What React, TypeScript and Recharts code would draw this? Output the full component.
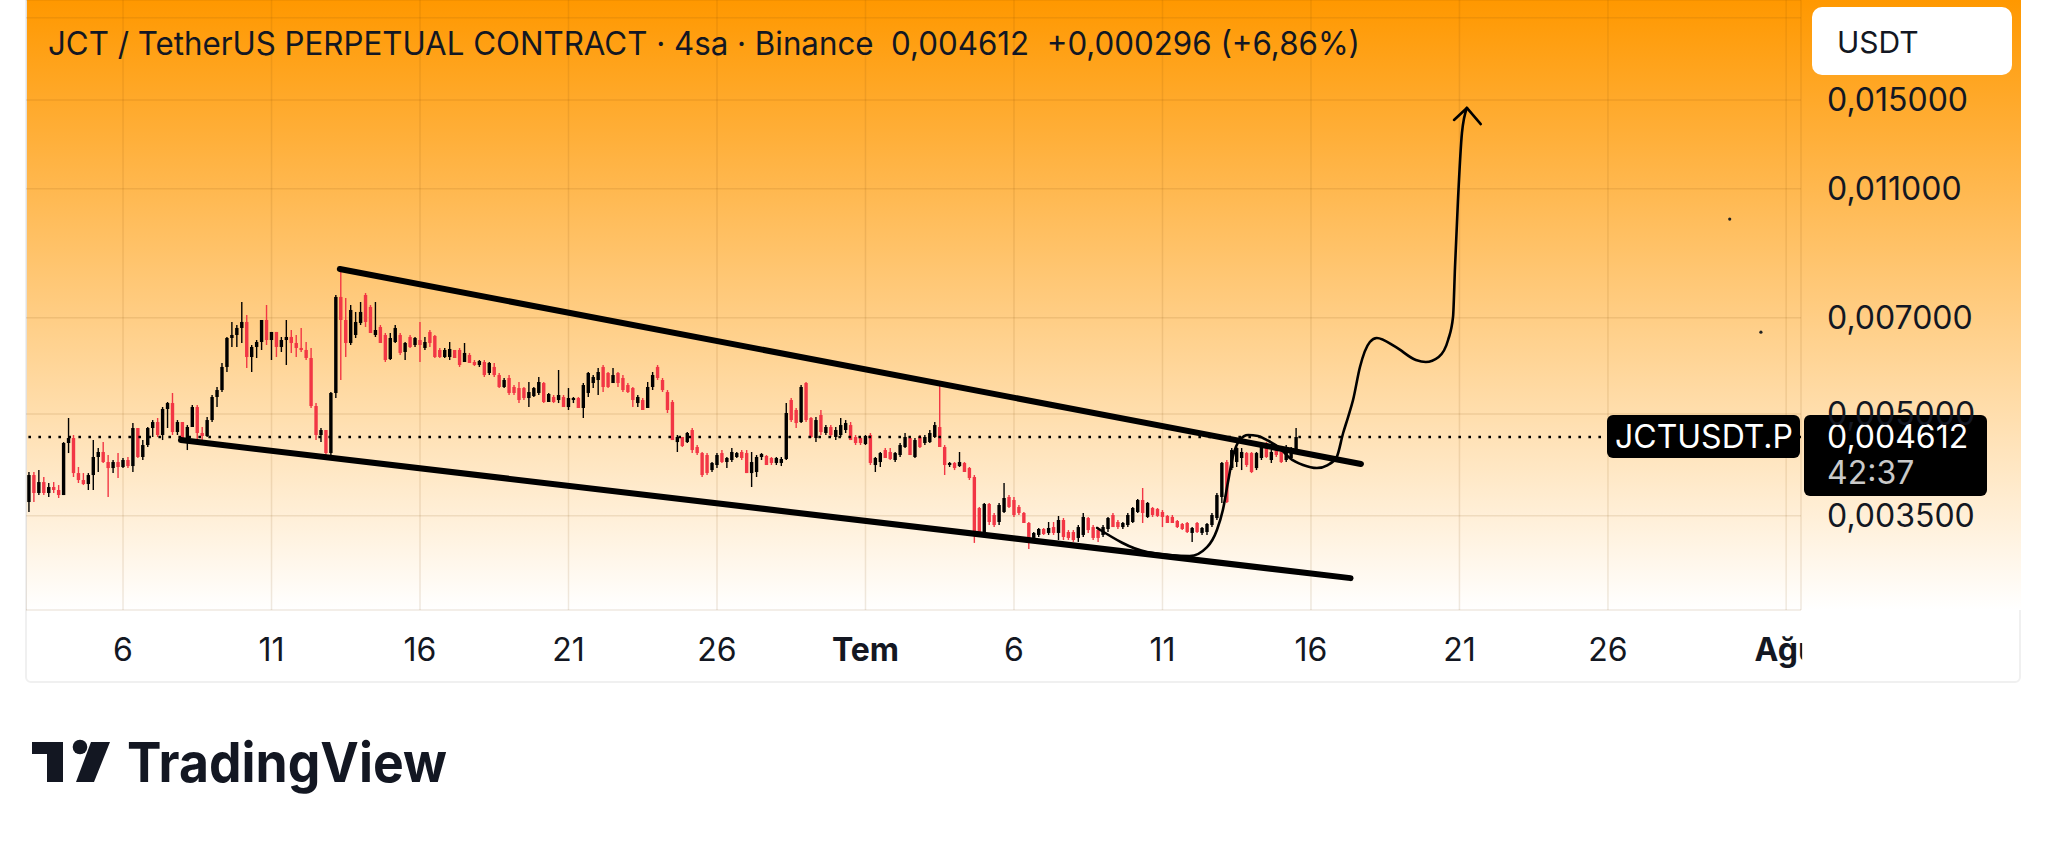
import React from 'react';
import {
  ComposedChart,
  Bar,
  Line,
  Scatter,
  XAxis,
  YAxis,
  CartesianGrid,
  ReferenceLine,
} from 'recharts';

// JCTUSDT.P 4h candles, bar 0 = 2 Haz 20:00 -> [open, high, low, close]
const ohlc: number[][] = [
  [0.003673, 0.00408, 0.003547, 0.004037], [0.004037, 0.00408, 0.003673, 0.003791], [0.003791, 0.004108, 0.003764, 0.003939],
  [0.003939, 0.004009, 0.003764, 0.003791], [0.003791, 0.003926, 0.003738, 0.003871], [0.003871, 0.003939, 0.003791, 0.003831],
  [0.003831, 0.003898, 0.003725, 0.003764], [0.003764, 0.004531, 0.003764, 0.004516], [0.004516, 0.004929, 0.00436, 0.004595],
  [0.004595, 0.004644, 0.004009, 0.004065], [0.004065, 0.004152, 0.003926, 0.003967], [0.003967, 0.004065, 0.003898, 0.003912],
  [0.003912, 0.004065, 0.003831, 0.004037], [0.004037, 0.004563, 0.003831, 0.0043], [0.0043, 0.004437, 0.00408, 0.004376],
  [0.004376, 0.004531, 0.004211, 0.004225], [0.004225, 0.00433, 0.003738, 0.004137], [0.004137, 0.004255, 0.004065, 0.004225],
  [0.004225, 0.00436, 0.003995, 0.004152], [0.004152, 0.004285, 0.004137, 0.004255], [0.004255, 0.0043, 0.004137, 0.004166],
  [0.004166, 0.004843, 0.00408, 0.004759], [0.004759, 0.004759, 0.004285, 0.0043], [0.0043, 0.004563, 0.004255, 0.004484],
  [0.004484, 0.004776, 0.004453, 0.004759], [0.004759, 0.004894, 0.004612, 0.00486], [0.00486, 0.004929, 0.004612, 0.004644],
  [0.004644, 0.005122, 0.004563, 0.005087], [0.005087, 0.005213, 0.004759, 0.005194], [0.005194, 0.00538, 0.004644, 0.004693],
  [0.004693, 0.004894, 0.004644, 0.00486], [0.00486, 0.00486, 0.004563, 0.004595], [0.004595, 0.004809, 0.004406, 0.004776],
  [0.004776, 0.005158, 0.004776, 0.005122], [0.005122, 0.005158, 0.004563, 0.004677], [0.004677, 0.004776, 0.004516, 0.004628],
  [0.004628, 0.004946, 0.004612, 0.004894], [0.004894, 0.005342, 0.00486, 0.005305], [0.005305, 0.005494, 0.005122, 0.005436],
  [0.005436, 0.005976, 0.005398, 0.005893], [0.005893, 0.006545, 0.00579, 0.006522], [0.006522, 0.006898, 0.00632, 0.006591],
  [0.006591, 0.006826, 0.00632, 0.006755], [0.006755, 0.007398, 0.006409, 0.006898], [0.006898, 0.007069, 0.005872, 0.006102],
  [0.006102, 0.006364, 0.00579, 0.00632], [0.00632, 0.006476, 0.006081, 0.006431], [0.006431, 0.006946, 0.006254, 0.006946],
  [0.006946, 0.007321, 0.006364, 0.006476], [0.006476, 0.006661, 0.006038, 0.006661], [0.006661, 0.006661, 0.006102, 0.00632],
  [0.00632, 0.006545, 0.00621, 0.006476], [0.006476, 0.006946, 0.005934, 0.006545], [0.006545, 0.006707, 0.006189, 0.006409],
  [0.006409, 0.006591, 0.006102, 0.006298], [0.006298, 0.006755, 0.00621, 0.006254], [0.006254, 0.006431, 0.006038, 0.006081],
  [0.006081, 0.006298, 0.005105, 0.00514], [0.00514, 0.005194, 0.004563, 0.004644], [0.004644, 0.004759, 0.004531, 0.004726],
  [0.004726, 0.004726, 0.0043, 0.00436], [0.00436, 0.005398, 0.004255, 0.00538], [0.00538, 0.007581, 0.005286, 0.007529],
  [0.007529, 0.008304, 0.00563, 0.006946], [0.006946, 0.007502, 0.006102, 0.006409], [0.006409, 0.007321, 0.006364, 0.007194],
  [0.006591, 0.007144, 0.006522, 0.006898], [0.006874, 0.007398, 0.006826, 0.007144], [0.007581, 0.007635, 0.006778, 0.006898],
  [0.00727, 0.007321, 0.006637, 0.006637], [0.006591, 0.007398, 0.006545, 0.006707], [0.006778, 0.006826, 0.006409, 0.006409],
  [0.006591, 0.006637, 0.005996, 0.006038], [0.006059, 0.006637, 0.006038, 0.006522], [0.006431, 0.006826, 0.006409, 0.006755],
  [0.006591, 0.006637, 0.006145, 0.006189], [0.00621, 0.006431, 0.006038, 0.006409], [0.006545, 0.006591, 0.006298, 0.00632],
  [0.006364, 0.006545, 0.00632, 0.006522], [0.006476, 0.006898, 0.005996, 0.006364], [0.006298, 0.006545, 0.006254, 0.006431],
  [0.006661, 0.006707, 0.00632, 0.006409], [0.006568, 0.006591, 0.006081, 0.006102], [0.006254, 0.006298, 0.006081, 0.006102],
  [0.006102, 0.006298, 0.006081, 0.006254], [0.006102, 0.006431, 0.006038, 0.006276], [0.006254, 0.006254, 0.006081, 0.006081],
  [0.006254, 0.006298, 0.005893, 0.005934], [0.005996, 0.006409, 0.005996, 0.006189], [0.006145, 0.006189, 0.005976, 0.005976],
  [0.005996, 0.006038, 0.005913, 0.005934], [0.005934, 0.006038, 0.005893, 0.006017], [0.005996, 0.006038, 0.005689, 0.005729],
  [0.00577, 0.005996, 0.005729, 0.005976], [0.005893, 0.005976, 0.005689, 0.005729], [0.005729, 0.00577, 0.005474, 0.005494],
  [0.005494, 0.00567, 0.005474, 0.00563], [0.00567, 0.005729, 0.005342, 0.00538], [0.005494, 0.005532, 0.005342, 0.00538],
  [0.005474, 0.005591, 0.005194, 0.005249], [0.005474, 0.005494, 0.005249, 0.005286], [0.005286, 0.005591, 0.005122, 0.005398],
  [0.005323, 0.005494, 0.005305, 0.005474], [0.00538, 0.005689, 0.005342, 0.005591], [0.005571, 0.005591, 0.005194, 0.005213],
  [0.005213, 0.00538, 0.005213, 0.005361], [0.005305, 0.005342, 0.005194, 0.005213], [0.005249, 0.005831, 0.005194, 0.005342],
  [0.005305, 0.005342, 0.005122, 0.005122], [0.005122, 0.005474, 0.005069, 0.005286], [0.005249, 0.005305, 0.005194, 0.005286],
  [0.005286, 0.005305, 0.005105, 0.005105], [0.005105, 0.005571, 0.004929, 0.005532], [0.00538, 0.00579, 0.005305, 0.00577],
  [0.005571, 0.005729, 0.005474, 0.005689], [0.00563, 0.005872, 0.005342, 0.00579], [0.005893, 0.005934, 0.005398, 0.005494],
  [0.00577, 0.00579, 0.005474, 0.005494], [0.005571, 0.005872, 0.005571, 0.005729], [0.00577, 0.00579, 0.005494, 0.005571],
  [0.00567, 0.005729, 0.005398, 0.005436], [0.005532, 0.005571, 0.00538, 0.005398], [0.005474, 0.005494, 0.005122, 0.005249],
  [0.005194, 0.005342, 0.005122, 0.005305], [0.005249, 0.005286, 0.005069, 0.005069], [0.005105, 0.005591, 0.005105, 0.005494],
  [0.005494, 0.00579, 0.005436, 0.005729], [0.005893, 0.005934, 0.00563, 0.00567], [0.00563, 0.00567, 0.005398, 0.005436],
  [0.005398, 0.005436, 0.005016, 0.005069], [0.005213, 0.005249, 0.004563, 0.004563], [0.004531, 0.004644, 0.004376, 0.004612],
  [0.004612, 0.004612, 0.004453, 0.004468], [0.004531, 0.004693, 0.004516, 0.004677], [0.004726, 0.004759, 0.00436, 0.004406],
  [0.004453, 0.004484, 0.00433, 0.00436], [0.00436, 0.004376, 0.004009, 0.004037], [0.00433, 0.00436, 0.004037, 0.004065],
  [0.004108, 0.004225, 0.00408, 0.004211], [0.004181, 0.00436, 0.004137, 0.00433], [0.00436, 0.004406, 0.004211, 0.004225],
  [0.004225, 0.0043, 0.004137, 0.004285], [0.004255, 0.004437, 0.004225, 0.004376], [0.0043, 0.004376, 0.004285, 0.00436],
  [0.004376, 0.004406, 0.004255, 0.004285], [0.00436, 0.004406, 0.004065, 0.004065], [0.004065, 0.004376, 0.003871, 0.004225],
  [0.00408, 0.00433, 0.004009, 0.0043], [0.0043, 0.00436, 0.004255, 0.004345], [0.004315, 0.00433, 0.004181, 0.004181],
  [0.004285, 0.0043, 0.004181, 0.004211], [0.004211, 0.0043, 0.004181, 0.004285], [0.004211, 0.0043, 0.004166, 0.00427],
  [0.00427, 0.005194, 0.004255, 0.005016], [0.005249, 0.005286, 0.00486, 0.004894], [0.005069, 0.005105, 0.004759, 0.004843],
  [0.00486, 0.005532, 0.004843, 0.005494], [0.005571, 0.005591, 0.00486, 0.004894], [0.004929, 0.004946, 0.004595, 0.004612],
  [0.004595, 0.004946, 0.004531, 0.004894], [0.004981, 0.005069, 0.004644, 0.004693], [0.004677, 0.004809, 0.004644, 0.004776],
  [0.004776, 0.004809, 0.004612, 0.004644], [0.004612, 0.004776, 0.004563, 0.004726], [0.004644, 0.004929, 0.004612, 0.004809],
  [0.004726, 0.004894, 0.004677, 0.004843], [0.004809, 0.00486, 0.004563, 0.004563], [0.004612, 0.004644, 0.004484, 0.004516],
  [0.004595, 0.004612, 0.004484, 0.004516], [0.0045, 0.004644, 0.004484, 0.004628], [0.004644, 0.004677, 0.004181, 0.004211],
  [0.004181, 0.0043, 0.00408, 0.004285], [0.004225, 0.004376, 0.004152, 0.00436], [0.004406, 0.004437, 0.004285, 0.004285],
  [0.004376, 0.004437, 0.004255, 0.00427], [0.004255, 0.004376, 0.004225, 0.00436], [0.00433, 0.004516, 0.0043, 0.004484],
  [0.004453, 0.004677, 0.004437, 0.004612], [0.004595, 0.004612, 0.00433, 0.00433], [0.0043, 0.004595, 0.004285, 0.004563],
  [0.004612, 0.004644, 0.004437, 0.004453], [0.004516, 0.004644, 0.004484, 0.004612], [0.004531, 0.004726, 0.004516, 0.004677],
  [0.004612, 0.00486, 0.004595, 0.004809], [0.004776, 0.005532, 0.004453, 0.004453], [0.004453, 0.004484, 0.004037, 0.004181],
  [0.004181, 0.004225, 0.004152, 0.004211], [0.004211, 0.004225, 0.004108, 0.004137], [0.004166, 0.004376, 0.004152, 0.004225],
  [0.004211, 0.004225, 0.00408, 0.00408], [0.004137, 0.004152, 0.003967, 0.003995], [0.004009, 0.004037, 0.003183, 0.003307],
  [0.003597, 0.00361, 0.003296, 0.003307], [0.003307, 0.003661, 0.003296, 0.003648], [0.003648, 0.003661, 0.003389, 0.003425],
  [0.00351, 0.003535, 0.003365, 0.003389], [0.003425, 0.003661, 0.003389, 0.003635], [0.003547, 0.003926, 0.003535, 0.003725],
  [0.003738, 0.003764, 0.003597, 0.00361], [0.003699, 0.003738, 0.003486, 0.00351], [0.00361, 0.003635, 0.00351, 0.003535],
  [0.003535, 0.003547, 0.003413, 0.003413], [0.003413, 0.003425, 0.003116, 0.003216], [0.003239, 0.003307, 0.003216, 0.003296],
  [0.003273, 0.003354, 0.00325, 0.003342], [0.003342, 0.003354, 0.003273, 0.003284], [0.003296, 0.003425, 0.003273, 0.003354],
  [0.003365, 0.003425, 0.003273, 0.003296], [0.003296, 0.003498, 0.003216, 0.003449], [0.003449, 0.003473, 0.003216, 0.00325],
  [0.003307, 0.00333, 0.003216, 0.003239], [0.003307, 0.00333, 0.003194, 0.003216], [0.003239, 0.003389, 0.003194, 0.003365],
  [0.003273, 0.003535, 0.00325, 0.003486], [0.003473, 0.003486, 0.003296, 0.00333], [0.003365, 0.003389, 0.003216, 0.003239],
  [0.00333, 0.003365, 0.003194, 0.003239], [0.003273, 0.003389, 0.00325, 0.003365], [0.003342, 0.003486, 0.003307, 0.003473],
  [0.00351, 0.003535, 0.003365, 0.003365], [0.003425, 0.003449, 0.003342, 0.003365], [0.003365, 0.003425, 0.003342, 0.003413],
  [0.003389, 0.003535, 0.003365, 0.00351], [0.003425, 0.00361, 0.003413, 0.003597], [0.003547, 0.003712, 0.003535, 0.003699],
  [0.003699, 0.003858, 0.003413, 0.003535], [0.003486, 0.003673, 0.003473, 0.003661], [0.003597, 0.00361, 0.003486, 0.00351],
  [0.003585, 0.003597, 0.003486, 0.003498], [0.003547, 0.003572, 0.003365, 0.003486], [0.003498, 0.00351, 0.003413, 0.003413],
  [0.003486, 0.00351, 0.003413, 0.003413], [0.003437, 0.003449, 0.003354, 0.003365], [0.003401, 0.003413, 0.00333, 0.003342],
  [0.003413, 0.003425, 0.003296, 0.003307], [0.003296, 0.003365, 0.003194, 0.003354], [0.003413, 0.003425, 0.003296, 0.003307],
  [0.003296, 0.003365, 0.003273, 0.003354], [0.003307, 0.003413, 0.003273, 0.003401], [0.003389, 0.003535, 0.003365, 0.00351],
  [0.003473, 0.003791, 0.003449, 0.003764], [0.003738, 0.004225, 0.003661, 0.004211], [0.004225, 0.004255, 0.003661, 0.003673],
  [0.004137, 0.004437, 0.004108, 0.004406], [0.004225, 0.004453, 0.004152, 0.004437], [0.004285, 0.004437, 0.004108, 0.004376],
  [0.00436, 0.004376, 0.004152, 0.004181], [0.00436, 0.004376, 0.004065, 0.00408], [0.004137, 0.004376, 0.004108, 0.00436],
  [0.004285, 0.004484, 0.004255, 0.004453], [0.004516, 0.004531, 0.004285, 0.0043], [0.004255, 0.004406, 0.004211, 0.004376],
  [0.004406, 0.004437, 0.0043, 0.00433], [0.004376, 0.004406, 0.004211, 0.004225], [0.004255, 0.004484, 0.004225, 0.004453],
  [0.004285, 0.004453, 0.004255, 0.004437], [0.004406, 0.004759, 0.004376, 0.004612],
];

// day gridlines, as bar numbers (6 bars per day)
const dayTicks = [19, 49, 79, 109, 139, 169, 199, 229, 259, 289, 319, 355];
const dayLabels = ['6', '11', '16', '21', '26', 'Tem', '6', '11', '16', '21', '26', 'Ağu'];
const priceTicks = [0.0035, 0.005, 0.007, 0.011, 0.015, 0.02];
// 0,020000 sits under the USDT button, so its label is not drawn
const hiddenPriceLabels = [0.02];
const lastPrice = 0.004612;

// drawings on the chart (bar number, price)
const upperTrend = [{ i: 62.8, p: 0.008304 }, { i: 269.1, p: 0.004196 }];
const lowerTrend = [{ i: 30.7, p: 0.004563 }, { i: 267.0, p: 0.002814 }];
const sketch = [
  { i: 215.8, p: 0.003354 }, { i: 225.9, p: 0.003083 }, { i: 234.5, p: 0.003039 }, { i: 238.0, p: 0.003136 },
  { i: 240.0, p: 0.00333 }, { i: 241.2, p: 0.003572 }, { i: 242.2, p: 0.003926 }, { i: 243.2, p: 0.0043 },
  { i: 244.6, p: 0.004563 }, { i: 246.3, p: 0.004644 }, { i: 248.3, p: 0.004628 }, { i: 250.1, p: 0.004563 },
  { i: 252.7, p: 0.004437 }, { i: 254.7, p: 0.004285 }, { i: 257.4, p: 0.004181 }, { i: 260.2, p: 0.004137 },
  { i: 262.4, p: 0.004181 }, { i: 264.2, p: 0.0043 }, { i: 265.5, p: 0.004677 }, { i: 266.5, p: 0.004946 },
  { i: 267.5, p: 0.005249 }, { i: 268.9, p: 0.005893 }, { i: 270.9, p: 0.006431 }, { i: 272.3, p: 0.006522 },
  { i: 276.1, p: 0.00632 }, { i: 280.2, p: 0.006038 }, { i: 282.2, p: 0.005996 }, { i: 284.8, p: 0.006102 },
  { i: 286.7, p: 0.006476 }, { i: 287.7, p: 0.00702 }, { i: 288.1, p: 0.008356 }, { i: 288.7, p: 0.01057 },
  { i: 289.5, p: 0.01336 }, { i: 290.5, p: 0.01459 },
];
const arrowHead = [{ i: 287.9, p: 0.01399 }, { i: 290.5, p: 0.01459 }, { i: 293.3, p: 0.01379 }];
const specks = [{ i: 343.6, p: 0.009888 }, { i: 349.9, p: 0.006655 }];

const candles = ohlc.map(([o, h, l, c], i) => ({ i, o, h, l, c, range: [l, h] }));

const FONT = "Inter, 'Noto Sans', sans-serif";
const INK = '#131722';
const fmt = (v: number) => v.toFixed(6).replace('.', ',');
const priceLabel = (v: number) => (hiddenPriceLabels.includes(v) ? '' : fmt(v));

const Candle = (props: any) => {
  const { x, y, width, height, payload } = props;
  if (!payload) return null;
  const { o, h, l, c } = payload;
  const color = c >= o ? '#000000' : '#F23645';
  const top = Math.min(y, y + height);
  const span = Math.abs(height);
  const lh = Math.log(h);
  const lr = lh - Math.log(l) || 1;
  const py = (v: number) => top + (span * (lh - Math.log(v))) / lr;
  const cx = x + width / 2;
  const b1 = py(Math.max(o, c));
  const b2 = py(Math.min(o, c));
  return (
    <g>
      <line x1={cx} x2={cx} y1={top} y2={top + span} stroke={color} strokeWidth={1.4} />
      <rect x={cx - 1.7} y={b1} width={3.4} height={Math.max(b2 - b1, 1.2)} fill={color} />
    </g>
  );
};

const DayTick = (props: any) => {
  const { x, y, payload } = props;
  const label = dayLabels[dayTicks.indexOf(payload.value)] ?? '';
  const bold = label === 'Tem' || label === 'Ağu';
  const t = (
    <text x={x} y={y + 39} textAnchor="middle" dominantBaseline="central" fontSize={32} fontFamily={FONT} fontWeight={bold ? 700 : 400} fill={INK}>
      {label}
    </text>
  );
  if (label !== 'Ağu') return t;
  return (
    <g>
      <defs>
        <clipPath id="agu-clip">
          <rect x={x - 60} y={y} width={76} height={80} />
        </clipPath>
      </defs>
      <g clipPath="url(#agu-clip)">{t}</g>
    </g>
  );
};

const PriceTag = (props: any) => {
  const vb = props.viewBox || {};
  const right = vb.x + vb.width;
  const y = vb.y;
  return (
    <g>
      <rect x={right - 194} y={y - 22} width={193} height={43} rx={6} fill="#000" />
      <text x={right - 97} y={y} textAnchor="middle" dominantBaseline="central" fill="#fff" fontSize={32} fontFamily={FONT}>
        JCTUSDT.P
      </text>
      <rect x={right + 3} y={y - 22} width={183} height={81} rx={6} fill="#000" />
      <text x={right + 26} y={y} dominantBaseline="central" fill="#fff" fontSize={32} fontFamily={FONT}>
        {fmt(lastPrice)}
      </text>
      <text x={right + 26} y={y + 36} dominantBaseline="central" fill="#c9c9c9" fontSize={32} fontFamily={FONT}>
        42:37
      </text>
    </g>
  );
};

export default function App() {
  return (
    <div style={{ position: 'absolute', left: 0, top: 0, width: 2048, height: 841, background: '#fff', overflow: 'hidden' }}>
      {/* panel */}
      <div
        style={{
          position: 'absolute',
          left: 25,
          top: -2,
          width: 1996,
          height: 685,
          border: '2px solid #f0f0f0',
          borderRadius: '0 0 6px 6px',
          boxSizing: 'border-box',
        }}
      />
      <div
        style={{
          position: 'absolute',
          left: 27,
          top: 0,
          width: 1994,
          height: 610,
          background: 'linear-gradient(to bottom, #FF9800 0%, #FFFFFF 100%)',
        }}
      />
      <div style={{ position: 'absolute', left: 26, top: 0 }}>
        <ComposedChart width={1996} height={683} data={candles} margin={{ top: 0, right: 0, bottom: 0, left: 0 }}>
          <CartesianGrid stroke="rgba(120,70,10,0.12)" strokeWidth={1.5} />
          <XAxis
            dataKey="i"
            type="number"
            domain={[-0.6, 358]}
            allowDataOverflow
            ticks={dayTicks}
            interval={0}
            tick={<DayTick />}
            tickLine={false}
            axisLine={false}
            tickSize={0}
            tickMargin={0}
            height={73}
          />
          <YAxis
            orientation="right"
            scale="log"
            domain={[0.002517, 0.02129]}
            allowDataOverflow
            ticks={priceTicks}
            interval={0}
            tickFormatter={priceLabel}
            tick={{ fontSize: 32, fill: INK, fontFamily: FONT }}
            tickLine={false}
            axisLine={false}
            tickSize={0}
            tickMargin={26}
            width={221}
          />
          <Bar dataKey="range" barSize={3} shape={<Candle />} isAnimationActive={false} />
          <Line data={lowerTrend} dataKey="p" type="linear" stroke="#000" strokeWidth={6} strokeLinecap="round" dot={false} activeDot={false} isAnimationActive={false} />
          <Line data={upperTrend} dataKey="p" type="linear" stroke="#000" strokeWidth={6} strokeLinecap="round" dot={false} activeDot={false} isAnimationActive={false} />
          <Line data={sketch} dataKey="p" type="monotone" stroke="#000" strokeWidth={2.6} strokeLinecap="round" dot={false} activeDot={false} isAnimationActive={false} />
          <Line data={arrowHead} dataKey="p" type="linear" stroke="#000" strokeWidth={2.6} strokeLinecap="round" strokeLinejoin="round" dot={false} activeDot={false} isAnimationActive={false} />
          <Scatter data={specks} dataKey="p" isAnimationActive={false} shape={(p: any) => <circle cx={p.cx} cy={p.cy} r={1.6} fill="#222" />} />
          <ReferenceLine y={lastPrice} stroke="#000" strokeWidth={2.6} strokeDasharray="2.6 7.4" label={<PriceTag />} />
        </ComposedChart>
      </div>
      <svg width={2048} height={841} style={{ position: 'absolute', left: 0, top: 0, pointerEvents: 'none' }}>
        <text x={48} y={55} fontSize={32} fontFamily={FONT} fill={INK} textLength={1312} lengthAdjust="spacingAndGlyphs" style={{ whiteSpace: 'pre' }}>
          {'JCT / TetherUS PERPETUAL CONTRACT · 4sa · Binance  0,004612  +0,000296 (+6,86%)'}
        </text>
        <rect x={1812} y={7} width={200} height={68} rx={10} fill="#fff" />
        <text x={1837} y={42} dominantBaseline="central" fontSize={30} fontFamily={FONT} fill={INK}>
          USDT
        </text>
        <g fill="#131722">
          <rect x={32} y={742} width={31} height={12} />
          <rect x={47} y={742} width={16} height={40} />
          <circle cx={80} cy={747} r={7.3} />
          <polygon points="91,742 110,742 94,782 76,782" />
          <text x={127} y={782} fontSize={55} fontWeight={700} fontFamily={FONT} textLength={320} lengthAdjust="spacingAndGlyphs">
            TradingView
          </text>
        </g>
      </svg>
    </div>
  );
}
